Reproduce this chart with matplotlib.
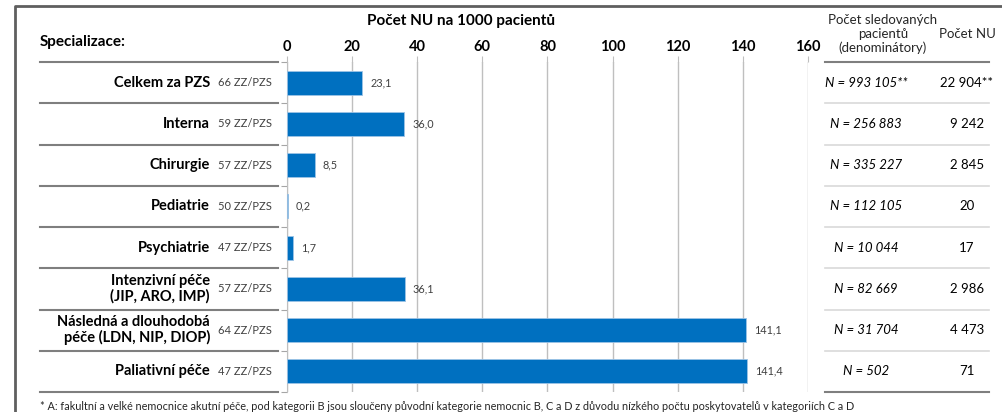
import matplotlib.pyplot as plt
import matplotlib.transforms as mtransforms
from matplotlib.lines import Line2D

plt.rcParams['font.family'] = ['Lato', 'DejaVu Sans']

# data
specializace = ['Celkem za PZS', 'Interna', 'Chirurgie', 'Pediatrie', 'Psychiatrie',
                'Intenzivní péče\n(JIP, ARO, IMP)',
                'Následná a dlouhodobá\npéče (LDN, NIP, DIOP)',
                'Paliativní péče']
zz_pzs = [66, 59, 57, 50, 47, 57, 64, 47]
nu_na_1000 = [23.1, 36.0, 8.5, 0.2, 1.7, 36.1, 141.1, 141.4]
denominatory = ['993 105**', '256 883', '335 227', '112 105', '10 044', '82 669', '31 704', '502']
pocet_nu = ['22 904**', '9 242', '2 845', '20', '17', '2 986', '4 473', '71']
x_ticks = [0, 20, 40, 60, 80, 100, 120, 140, 160]

W, H = 1003, 412
fig = plt.figure(figsize=(W / 100, H / 100), dpi=100)

def px(x, y):
    return x / W, 1 - y / H

# outer frame (left/top only visible)
fig.add_artist(Line2D([15 / W, 15 / W, 1.0], [0, 1 - 6 / H, 1 - 6 / H],
                      transform=fig.transFigure, color='#5f5f5f', lw=2))

ax = fig.add_axes([287 / W, 20 / H, (808 - 287) / W, (392 - 62) / H])
n = len(specializace)
ypos = list(range(n))
ax.barh(ypos, nu_na_1000, height=0.58, color='#0070C0', edgecolor='#9cc3e6', linewidth=0.6, zorder=3)
for y, v in zip(ypos, nu_na_1000):
    ax.text(v + 2.5, y, f'{v:.1f}'.replace('.', ','), va='center', ha='left',
            fontsize=7.8, color='#404040', zorder=4)

ax.set_xlim(0, 160)
ax.set_ylim(n - 0.5, -0.5)
ax.xaxis.tick_top()
ax.set_xticks(x_ticks)
ax.set_xticklabels([str(t) for t in x_ticks], fontsize=10.5, fontweight='bold')
ax.tick_params(axis='x', length=4, color='#bfbfbf', pad=2)
ax.set_yticks([i - 0.5 for i in range(n + 1)])
ax.set_yticklabels([])
ax.tick_params(axis='y', length=4, color='#a6a6a6')
ax.grid(axis='x', color='#bfbfbf', lw=1, zorder=0)
for s in ['top', 'right', 'bottom']:
    ax.spines[s].set_visible(False)
ax.spines['left'].set_color('#bfbfbf')

fig.text(*px(461, 21), 'Počet NU na 1000 pacientů', ha='center', va='center',
         fontsize=11, fontweight='bold')
fig.text(*px(40, 42), 'Specializace:', ha='left', va='center', fontsize=11, fontweight='bold')

# left and right table
blend = mtransforms.blended_transform_factory(fig.transFigure, ax.transData)
for i in range(n + 1):
    yb = i - 0.5
    fig.add_artist(Line2D([40 / W, 278 / W], [yb, yb], transform=blend, color='#7f7f7f', lw=1.5))
    if i == 0 or i == n:
        c, lw = '#7f7f7f', 1.5
    else:
        c, lw = '#d9d9d9', 1.2
    fig.add_artist(Line2D([825 / W, 989 / W], [yb, yb], transform=blend, color=c, lw=lw))

for i in range(n):
    fig.text(210 / W, i, specializace[i], transform=blend, ha='right', va='center',
             fontsize=10.5, fontweight='bold', linespacing=1.05)
    fig.text(218 / W, i, f'{zz_pzs[i]} ZZ/PZS', transform=blend, ha='left', va='center',
             fontsize=8, color='#404040')
    fig.text(866 / W, i, f'N = {denominatory[i]}', transform=blend, ha='center', va='center',
             fontsize=9.5, style='italic')
    fig.text(967 / W, i, pocet_nu[i], transform=blend, ha='center', va='center', fontsize=9.5)

fig.text(*px(883, 34), 'Počet sledovaných\npacientů\n(denominátory)', ha='center', va='center',
         fontsize=9.5, linespacing=1.15, color='#262626')
fig.text(*px(967, 34), 'Počet NU', ha='center', va='center', fontsize=9.5, color='#262626')

fig.text(*px(40, 407), '* A: fakultní a velké nemocnice akutní péče, pod kategorii B jsou sloučeny původní '
         'kategorie nemocnic B, C a D z důvodu nízkého počtu poskytovatelů v kategoriích C a D',
         ha='left', va='center', fontsize=7.8, color='#262626')

fig.savefig('out.png', dpi=100)
